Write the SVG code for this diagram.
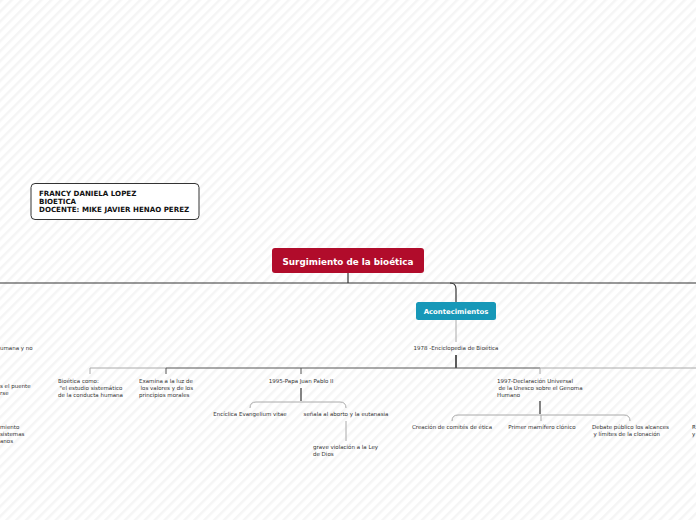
<svg xmlns="http://www.w3.org/2000/svg" width="696" height="520" viewBox="0 0 696 520">
<defs>
<pattern id="bg" width="7" height="7" patternUnits="userSpaceOnUse" patternTransform="rotate(45)">
<rect width="7" height="7" fill="#ffffff"/>
<rect width="2.5" height="7" fill="#f5f5f5"/>
</pattern>
<style>
.t{font-family:"DejaVu Sans",Verdana,sans-serif;font-size:5.5px;fill:#333}
.tc{font-family:"DejaVu Sans",Verdana,sans-serif;font-size:5.5px;fill:#333;text-anchor:middle}
.b{font-family:"DejaVu Sans",Verdana,sans-serif;font-weight:bold;fill:#fff;text-anchor:middle}
.info{font-family:"DejaVu Sans",Verdana,sans-serif;font-weight:bold;font-size:7.1px;fill:#111}
.dk{fill:none;stroke:#333;stroke-width:1.2}
.md{fill:none;stroke:#555;stroke-width:1}
.lt{fill:none;stroke:#aaa;stroke-width:1}
</style>
</defs>
<rect width="696" height="520" fill="url(#bg)"/>
<g id="connectors">
<path class="dk" d="M348 273 V283"/>
<path class="dk" d="M0 283 H696"/>
<path class="dk" d="M450 283 Q456 283 456 289 V302"/>
<path class="lt" d="M456 320 V342"/>
<path class="dk" d="M456 355 V368" style="stroke-width:1.6"/>
<path class="lt" d="M90 374 V368 H166"/>
<path class="md" d="M166 374 V368 H540"/>
<path class="md" d="M301 368 V374"/>
<path class="lt" d="M540 374 V368 H696"/>
<path class="dk" d="M301 388 V401"/>
<path class="lt" d="M250 408 Q250 402 256 402 H340 Q346 402 346 408"/>
<path class="lt" d="M346 421 V441"/>
<path class="dk" d="M540 401 V414"/>
<path class="lt" d="M452 421 Q452 415 458 415 H624 Q630 415 630 421"/>
<path class="lt" d="M541 415 V421"/>
</g>
<g id="info">
<rect x="31" y="183.5" width="168" height="36" rx="4" fill="#fff" stroke="#333" stroke-width="1"/>
<text class="info" x="39" y="195.5">FRANCY DANIELA LOPEZ</text>
<text class="info" x="39" y="203.5">BIOETICA</text>
<text class="info" x="39" y="212">DOCENTE: MIKE JAVIER HENAO PEREZ</text>
</g>
<g id="root">
<rect x="272" y="248" width="152" height="25" rx="3" fill="#b10c2b"/>
<text class="b" x="348" y="264.5" font-size="8.8">Surgimiento de la bioética</text>
</g>
<g id="acontecimientos">
<rect x="416" y="302" width="80" height="18" rx="2.5" fill="#1798b8"/>
<text class="b" x="456" y="313.5" font-size="6.9">Acontecimientos</text>
</g>
<g id="n1978"><text class="tc" x="456" y="350">1978 -Enciclopedia de Bioética</text></g>
<g id="left-fragments">
<text class="t" x="0" y="350">umana y no</text>
<text class="t" x="0" y="388">s el puente</text>
<text class="t" x="0" y="395">rse</text>
<text class="t" x="0" y="429">miento</text>
<text class="t" x="0" y="436">sistemas</text>
<text class="t" x="0" y="443">anos</text>
</g>
<g id="bioetica-como">
<text class="t" x="58" y="383">Bioética como:</text>
<text class="t" x="59.5" y="390">"el estudio sistemático</text>
<text class="t" x="58" y="397">de la conducta humana</text>
</g>
<g id="examina">
<text class="t" x="139" y="383">Examina a la luz de</text>
<text class="t" x="140.5" y="390">los valores y de los</text>
<text class="t" x="139" y="397">principios morales</text>
</g>
<g id="n1995"><text class="tc" x="301" y="383">1995-Papa Juan Pablo II</text></g>
<g id="enciclica"><text class="tc" x="250" y="416">Encíclica Evangelium vitae</text></g>
<g id="senala"><text class="tc" x="346" y="416">señala al aborto y la eutanasia</text></g>
<g id="grave">
<text class="t" x="313" y="449">grave violación a la Ley</text>
<text class="t" x="313" y="456">de Dios</text>
</g>
<g id="n1997">
<text class="t" x="497" y="383">1997-Declaración Universal</text>
<text class="t" x="498.5" y="390">de la Unesco sobre el Genoma</text>
<text class="t" x="497" y="397">Humano</text>
</g>
<g id="comites"><text class="tc" x="452" y="429">Creación de comités de ética</text></g>
<g id="mamifero"><text class="tc" x="542" y="429">Primer mamífero clónico</text></g>
<g id="debate">
<text class="t" x="592" y="429">Debate público los alcances</text>
<text class="t" x="593.5" y="436">y límites de la clonación</text>
</g>
<g id="right-fragment">
<text class="t" x="692" y="429">R</text>
<text class="t" x="692" y="436">y</text>
</g>
</svg>
